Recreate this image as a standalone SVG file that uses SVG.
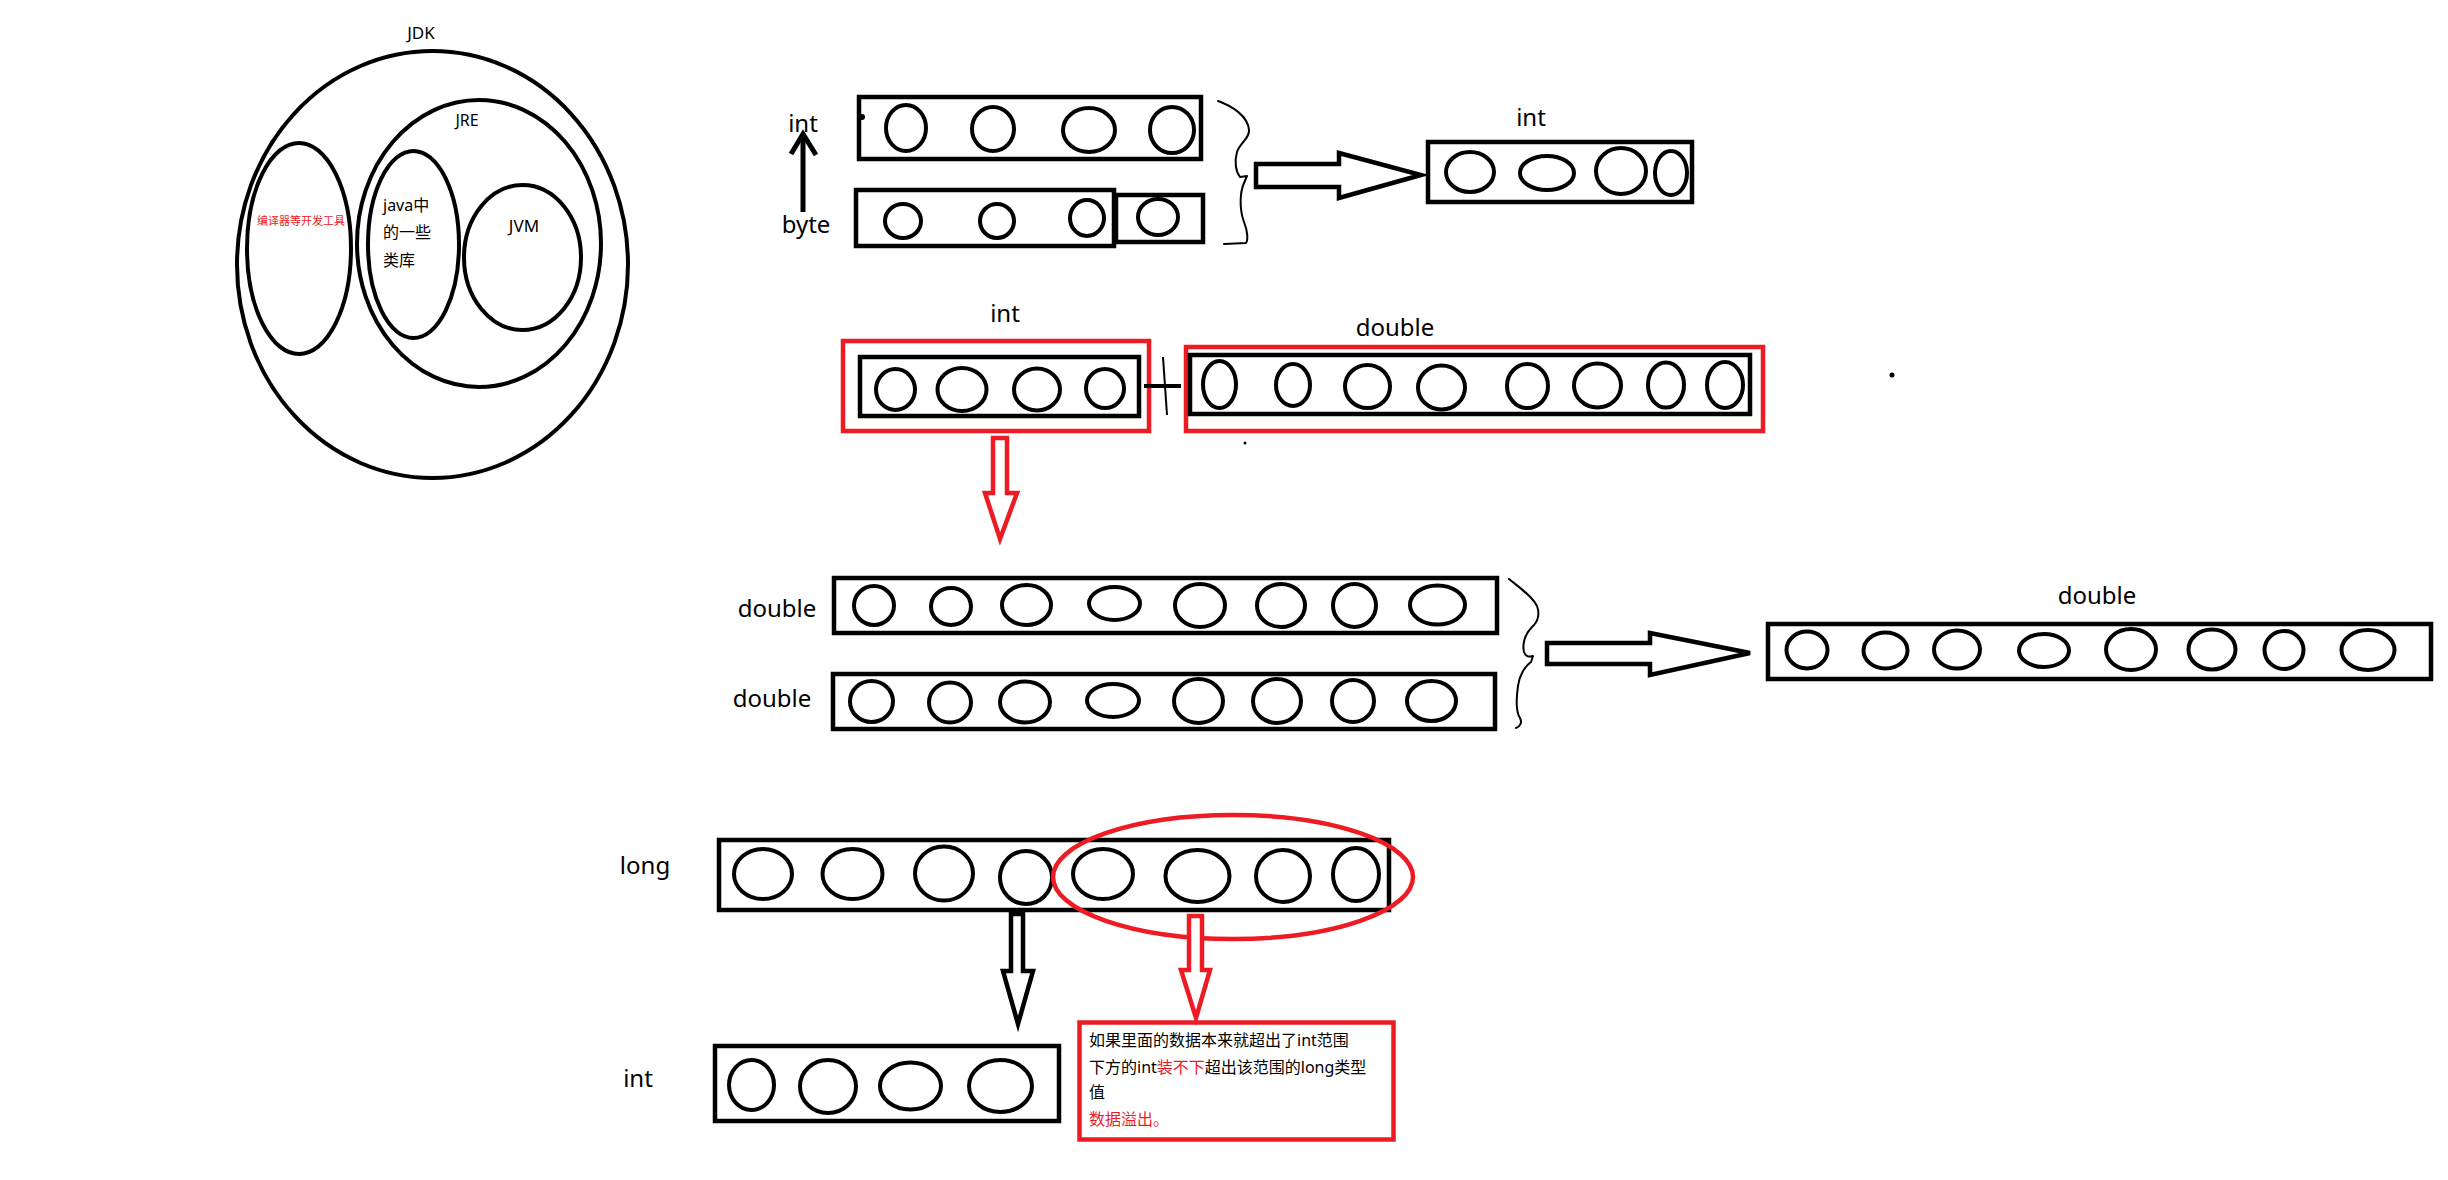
<svg xmlns="http://www.w3.org/2000/svg" width="2448" height="1180" viewBox="0 0 2448 1180">
<style>
.bk{fill:none;stroke:#000;stroke-width:4.5}
.c{fill:none;stroke:#000;stroke-width:4}
.rd{fill:none;stroke:#ed1c24;stroke-width:4.5}
.t{font-family:"Noto Sans","Noto Sans CJK SC",sans-serif;fill:#000}
.lbl{font-size:24px;text-anchor:middle}
.red{fill:#ed1c24}
.thin{fill:none;stroke:#000;stroke-width:2;stroke-linejoin:round;stroke-linecap:round}
.ha{fill:#fff;stroke:#000;stroke-width:4.5;stroke-linejoin:miter}
.hr{fill:#fff;stroke:#ed1c24;stroke-width:4.5;stroke-linejoin:miter}
</style>
<rect width="2448" height="1180" fill="#fff"/>

<g id="jdk">
  <ellipse class="c" cx="432.5" cy="264.5" rx="195.5" ry="213.5"/>
  <text class="t" x="421" y="39" font-size="17" text-anchor="middle">JDK</text>
</g>
<g id="jre">
  <ellipse class="c" cx="479" cy="243.5" rx="122" ry="143.5"/>
  <text class="t" x="467" y="126" font-size="16" text-anchor="middle">JRE</text>
</g>
<g id="devtools">
  <ellipse class="c" cx="299" cy="248.5" rx="52" ry="105.5"/>
  <text class="t red" x="301" y="225" font-size="11" text-anchor="middle">编译器等开发工具</text>
</g>
<g id="javalib">
  <ellipse class="c" cx="413.5" cy="244.5" rx="45.5" ry="93.5"/>
  <text class="t" font-size="16"><tspan x="383" y="211">java中</tspan><tspan x="383" y="238">的一些</tspan><tspan x="383" y="266">类库</tspan></text>
</g>
<g id="jvm">
  <ellipse class="c" cx="522.5" cy="257.5" rx="58.5" ry="72.5"/>
  <text class="t" x="524" y="232" font-size="17" text-anchor="middle">JVM</text>
</g>

<g id="int-top">
  <text class="t lbl" x="803" y="132">int</text>
  <rect class="bk" x="859" y="97" width="342" height="62"/>
  <circle cx="862" cy="117" r="3" fill="#000"/>
  <ellipse class="c" cx="906" cy="128" rx="20" ry="23"/>
  <ellipse class="c" cx="993" cy="129" rx="21" ry="22"/>
  <ellipse class="c" cx="1089" cy="130" rx="26" ry="22"/>
  <ellipse class="c" cx="1172" cy="130" rx="22" ry="23"/>
</g>
<g id="byte">
  <text class="t lbl" x="806" y="233">byte</text>
  <rect class="bk" x="856" y="190" width="258" height="56"/>
  <rect class="bk" x="1116" y="195" width="87" height="47"/>
  <ellipse class="c" cx="903" cy="221" rx="18" ry="17"/>
  <ellipse class="c" cx="997" cy="221" rx="17" ry="17"/>
  <ellipse class="c" cx="1087" cy="218" rx="17" ry="18"/>
  <ellipse class="c" cx="1158" cy="217" rx="20" ry="18"/>
</g>
<g id="int-result">
  <text class="t lbl" x="1531" y="126">int</text>
  <rect class="bk" x="1428" y="142" width="264" height="60"/>
  <ellipse class="c" cx="1470" cy="172" rx="24" ry="20"/>
  <ellipse class="c" cx="1547" cy="173" rx="27" ry="17"/>
  <ellipse class="c" cx="1621" cy="171" rx="25" ry="23"/>
  <ellipse class="c" cx="1671" cy="173" rx="16" ry="22"/>
</g>

<g id="int-mid">
  <text class="t lbl" x="1005" y="322">int</text>
  <rect class="rd" x="843" y="341" width="306" height="90"/>
  <rect class="bk" x="860" y="357" width="279" height="59"/>
  <ellipse class="c" cx="895.5" cy="389.5" rx="19.5" ry="20.5"/>
  <ellipse class="c" cx="962" cy="389.5" rx="24.5" ry="21.5"/>
  <ellipse class="c" cx="1037" cy="389.5" rx="23" ry="21"/>
  <ellipse class="c" cx="1105" cy="388.5" rx="19" ry="19.5"/>
</g>
<g id="double-mid">
  <text class="t lbl" x="1395" y="336">double</text>
  <rect class="rd" x="1186" y="347" width="577" height="84"/>
  <rect class="bk" x="1190" y="355" width="560" height="59"/>
  <ellipse class="c" cx="1219.5" cy="384.5" rx="16.5" ry="23.5"/>
  <ellipse class="c" cx="1293" cy="385" rx="17" ry="21"/>
  <ellipse class="c" cx="1367.5" cy="386.5" rx="22.5" ry="21.5"/>
  <ellipse class="c" cx="1441.5" cy="387.5" rx="23.5" ry="22"/>
  <ellipse class="c" cx="1527.5" cy="386" rx="20.5" ry="22"/>
  <ellipse class="c" cx="1597.5" cy="385.5" rx="23.5" ry="22"/>
  <ellipse class="c" cx="1666" cy="385" rx="18" ry="22.5"/>
  <ellipse class="c" cx="1725" cy="385" rx="18" ry="23"/>
</g>
<circle cx="1245" cy="443" r="1.5" fill="#000"/>
<circle cx="1892" cy="375" r="2.5" fill="#000"/>

<g id="double-1">
  <text class="t lbl" x="777" y="617">double</text>
  <rect class="bk" x="834" y="578" width="663" height="55"/>
  <ellipse class="c" cx="874" cy="605.5" rx="20" ry="19.5"/>
  <ellipse class="c" cx="951" cy="606.5" rx="20" ry="18.5"/>
  <ellipse class="c" cx="1026.5" cy="605" rx="24.5" ry="20"/>
  <ellipse class="c" cx="1114.5" cy="603.5" rx="25.5" ry="16.5"/>
  <ellipse class="c" cx="1200" cy="605.5" rx="25" ry="21.5"/>
  <ellipse class="c" cx="1281" cy="605.5" rx="24" ry="21.5"/>
  <ellipse class="c" cx="1354.5" cy="605.5" rx="21.5" ry="21.5"/>
  <ellipse class="c" cx="1437.5" cy="605" rx="27.5" ry="19.5"/>
</g>
<g id="double-2">
  <text class="t lbl" x="772" y="707">double</text>
  <rect class="bk" x="833" y="674" width="662" height="55"/>
  <ellipse class="c" cx="871.5" cy="701.5" rx="21.5" ry="20.5"/>
  <ellipse class="c" cx="950" cy="702.5" rx="21" ry="20"/>
  <ellipse class="c" cx="1025" cy="702" rx="25" ry="20.5"/>
  <ellipse class="c" cx="1113" cy="700.5" rx="26" ry="16.5"/>
  <ellipse class="c" cx="1198.5" cy="701" rx="24.5" ry="22"/>
  <ellipse class="c" cx="1277" cy="701" rx="24" ry="22"/>
  <ellipse class="c" cx="1353" cy="701" rx="21" ry="21"/>
  <ellipse class="c" cx="1431.5" cy="701" rx="24.5" ry="20"/>
</g>
<g id="double-result">
  <text class="t lbl" x="2097" y="604">double</text>
  <rect class="bk" x="1768" y="624" width="663" height="55"/>
  <ellipse class="c" cx="1807" cy="650" rx="20.5" ry="18.5"/>
  <ellipse class="c" cx="1885.5" cy="650.5" rx="22" ry="18"/>
  <ellipse class="c" cx="1957" cy="649.5" rx="23" ry="19"/>
  <ellipse class="c" cx="2044" cy="650.5" rx="25" ry="16.5"/>
  <ellipse class="c" cx="2131" cy="649.5" rx="25" ry="20.5"/>
  <ellipse class="c" cx="2212" cy="649.5" rx="23.5" ry="20"/>
  <ellipse class="c" cx="2284" cy="650" rx="19.5" ry="19"/>
  <ellipse class="c" cx="2368" cy="650" rx="26.5" ry="20"/>
</g>

<g id="long">
  <text class="t lbl" x="645" y="874">long</text>
  <rect class="bk" x="719" y="840" width="670" height="70"/>
  <ellipse class="c" cx="763" cy="874" rx="29" ry="25"/>
  <ellipse class="c" cx="852.5" cy="874" rx="30" ry="25"/>
  <ellipse class="c" cx="944" cy="873.5" rx="29" ry="27"/>
  <ellipse class="c" cx="1026" cy="877.5" rx="26" ry="26.5"/>
  <ellipse class="c" cx="1103" cy="874" rx="30" ry="25"/>
  <ellipse class="c" cx="1197.5" cy="876" rx="32" ry="26"/>
  <ellipse class="c" cx="1283" cy="876" rx="27" ry="26"/>
  <ellipse class="c" cx="1356" cy="874.5" rx="23" ry="26.5"/>
  <ellipse class="rd" cx="1233" cy="877" rx="180" ry="62"/>
</g>
<g id="int-bottom">
  <text class="t lbl" x="638" y="1087">int</text>
  <rect class="bk" x="715" y="1046" width="344" height="75"/>
  <ellipse class="c" cx="751.5" cy="1085" rx="22.5" ry="25"/>
  <ellipse class="c" cx="828" cy="1086.5" rx="28" ry="26.5"/>
  <ellipse class="c" cx="910.5" cy="1086" rx="30.5" ry="23.5"/>
  <ellipse class="c" cx="1000.5" cy="1086" rx="31.5" ry="26"/>
</g>
<g id="overflow-note">
  <rect class="rd" x="1079.5" y="1022.5" width="314" height="117"/>
  <text class="t" font-size="16"><tspan x="1089" y="1046">如果里面的数据本来就超出了int范围</tspan><tspan x="1089" y="1073">下方的int<tspan class="red">装不下</tspan>超出该范围的long类型</tspan><tspan x="1089" y="1098">值</tspan><tspan x="1089" y="1125" class="red">数据溢出。</tspan></text>
</g>

<g id="connectors">
  <line x1="803" y1="212" x2="803" y2="136" stroke="#000" stroke-width="5"/>
  <polyline points="791,154 803,134 816,155" fill="none" stroke="#000" stroke-width="5"/>
  <path class="thin" d="M1218,101 C1232,106 1248,116 1249,130 C1250,138 1240,143 1237,152 C1234,162 1236,172 1240,177 L1247,176 L1244,183 C1240,192 1239,208 1244,222 C1248,232 1248,240 1246,243 L1224,244"/>
  <polygon class="ha" points="1256,164 1339,164 1339,153 1421,175 1339,198 1339,187 1256,187"/>
  <line x1="1144" y1="386" x2="1181" y2="386" stroke="#000" stroke-width="4"/>
  <line x1="1163" y1="357" x2="1167" y2="415" stroke="#000" stroke-width="2"/>
  <polygon class="hr" points="993,438 1007,438 1007,493 1017,493 1000,539 985,493 993,493"/>
  <path class="thin" d="M1509,579 C1520,588 1532,596 1537,606 C1540,614 1538,622 1532,627 C1525,634 1522,644 1524,652 C1526,657 1530,657 1533,656 L1531,662 C1525,666 1519,676 1518,686 C1516,700 1516,712 1520,718 C1522,722 1521,726 1516,728"/>
  <polygon class="ha" points="1547,643 1650,643 1650,633 1750,653 1650,675 1650,664 1547,664"/>
  <polygon class="ha" points="1011,914 1023,914 1023,971 1033,971 1018,1024 1003,971 1011,971"/>
  <polygon class="hr" points="1189,916 1202,916 1202,970 1210,970 1196,1018 1181,970 1189,970"/>
</g>
</svg>
